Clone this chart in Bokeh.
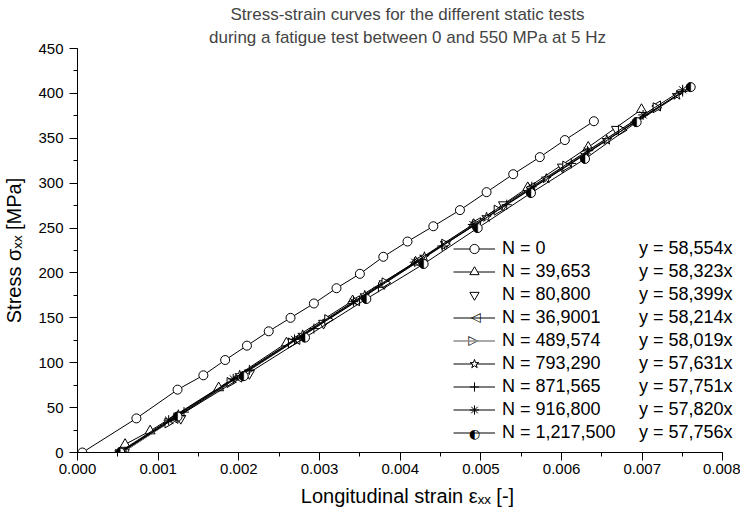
import numpy as np
from bokeh.plotting import figure
from bokeh.models import (Range1d, SingleIntervalTicker, NumeralTickFormatter,
                          Legend, LegendItem, Title, Label)
from bokeh.embed import file_html
from bokeh.resources import INLINE

FONT = "Liberation Sans"

title_line1 = "Stress-strain curves for the different static tests"
title_line2 = "during a fatigue test between 0 and 550 MPa at 5 Hz"
x_label = "Longitudinal strain εₓₓ [-]"
y_label = "Stress σₓₓ [MPa]"

series_names = ["N = 0", "N = 39,653", "N = 80,800", "N = 36,9001", "N = 489,574",
                "N = 793,290", "N = 871,565", "N = 916,800", "N = 1,217,500"]
fit_labels = ["y = 58,554x", "y = 58,323x", "y = 58,399x", "y = 58,214x", "y = 58,019x",
              "y = 57,631x", "y = 57,751x", "y = 57,820x", "y = 57,756x"]

# N = 0
strain_n0 = [0.00006, 0.00073, 0.00124, 0.00156, 0.00183, 0.00210, 0.00237, 0.00264, 0.00293, 0.00321,
             0.00350, 0.00379, 0.00409, 0.00441, 0.00474, 0.00507, 0.00540, 0.00573, 0.00604, 0.00640]
stress_n0 = [0, 38, 70, 86, 103, 119, 135, 150, 166, 183, 199, 218, 235, 252, 270, 290, 310, 329, 348, 369]
# N = 39,653
strain_n39653 = [0.00059, 0.00090, 0.00175, 0.00259, 0.00341, 0.00419, 0.00491, 0.00558, 0.00633, 0.00699]
stress_n39653 = [9, 24, 72, 122, 169, 212, 254, 295, 340, 382]
# N = 80,800 (points only)
strain_n80800 = [0.00058, 0.00128, 0.00213, 0.00305, 0.00380, 0.00456, 0.00528, 0.00601, 0.00668]
stress_n80800 = [0, 38, 88, 144, 188, 232, 276, 318, 360]
# N = 36,9001
strain_n369001 = [0.00056, 0.00121, 0.00200, 0.00272, 0.00346, 0.00424, 0.00496, 0.00563, 0.00630, 0.00719]
stress_n369001 = [0, 38, 84, 126, 169, 214, 256, 295, 334, 386]
# N = 489,574
strain_n489574 = [0.00055, 0.00112, 0.00189, 0.00265, 0.00310, 0.00381, 0.00455, 0.00520, 0.00605, 0.00674, 0.00717]
stress_n489574 = [0, 33, 78, 122, 148, 189, 232, 270, 319, 359, 384]
# N = 793,290
strain_n793290 = [0.00052, 0.00125, 0.00201, 0.00279, 0.00356, 0.00430, 0.00507, 0.00581, 0.00656, 0.00743]
stress_n793290 = [0, 42, 86, 131, 175, 218, 262, 305, 348, 398]
# N = 871,565
strain_n871565 = [0.00054, 0.00132, 0.00213, 0.00293, 0.00373, 0.00452, 0.00532, 0.00612, 0.00691, 0.00750]
stress_n871565 = [0, 45, 92, 138, 184, 230, 276, 322, 368, 402]
# N = 916,800
strain_n916800 = [0.00051, 0.00113, 0.00193, 0.00269, 0.00342, 0.00418, 0.00490, 0.00563, 0.00632, 0.00701, 0.00750]
stress_n916800 = [0, 36, 82, 126, 168, 212, 254, 296, 336, 376, 404]
# N = 1,217,500
strain_n1217500 = [0.00053, 0.00124, 0.00206, 0.00282, 0.00358, 0.00429, 0.00496, 0.00562, 0.00629, 0.00693, 0.00760]
stress_n1217500 = [0, 40, 85, 128, 171, 210, 250, 289, 327, 368, 407]

X_AXIS_END = 0.008

p = figure(width=740, height=510, output_backend="svg", toolbar_location=None,
           x_range=Range1d(0, 0.00818), y_range=Range1d(0, 450),
           min_border_left=74, min_border_right=3, min_border_top=48, min_border_bottom=58)
p.outline_line_color = None
p.grid.visible = False
p.background_fill_color = "white"
p.border_fill_color = "white"

p.xaxis.ticker = SingleIntervalTicker(interval=0.001, num_minor_ticks=2)
p.yaxis.ticker = SingleIntervalTicker(interval=50, num_minor_ticks=2)
p.xaxis.formatter = NumeralTickFormatter(format="0.000")
p.xaxis.bounds = (0, X_AXIS_END)
for ax in (p.xaxis[0], p.yaxis[0]):
    ax.axis_line_color = "black"
    ax.major_tick_line_color = "black"
    ax.minor_tick_line_color = "black"
    ax.major_tick_in = 0
    ax.major_tick_out = 8
    ax.minor_tick_in = 0
    ax.minor_tick_out = 4
    ax.major_label_text_font = FONT
    ax.major_label_text_font_size = "15px"
    ax.major_label_text_color = "black"
    ax.axis_label_text_font = FONT
    ax.axis_label_text_font_size = "20px"
    ax.axis_label_text_font_style = "normal"
    ax.axis_label_text_color = "black"
p.xaxis.axis_label = x_label
p.yaxis.axis_label = y_label
p.xaxis.major_label_standoff = 3
p.yaxis.major_label_standoff = 6
p.xaxis.axis_label_standoff = 8
p.yaxis.axis_label_standoff = 10

p.add_layout(Title(text=title_line2, text_font=FONT, text_font_size="17px",
                   text_font_style="normal", align="center", standoff=4, offset=-13), "above")
p.add_layout(Title(text=title_line1, text_font=FONT, text_font_size="17px",
                   text_font_style="normal", align="center", standoff=0, offset=-13), "above")

W = dict(fill_color="white", line_color="black", line_width=1)

r0l = p.line(strain_n0, stress_n0, line_color="black", line_width=1)
r0m = p.scatter(strain_n0, stress_n0, marker="circle", size=9, **W)

r1l = p.line(strain_n39653, stress_n39653, line_color="black", line_width=1)
r1m = p.scatter(strain_n39653, stress_n39653, marker="triangle", size=10, **W)

r2m = p.scatter(strain_n80800, stress_n80800, marker="inverted_triangle", size=10, **W)

r3l = p.line(strain_n369001, stress_n369001, line_color="black", line_width=1)
r3m = p.scatter(strain_n369001, stress_n369001, marker="triangle", angle=np.pi / 2, size=10, **W)

r4l = p.line(strain_n489574, stress_n489574, line_color="#8c8c8c", line_width=1.5)
r4m = p.scatter(strain_n489574, stress_n489574, marker="triangle", angle=-np.pi / 2, size=10, **W)

r5l = p.line(strain_n793290, stress_n793290, line_color="black", line_width=1)
r5m = p.scatter(strain_n793290, stress_n793290, marker="star", size=10, **W)

r6l = p.line(strain_n871565, stress_n871565, line_color="black", line_width=1)
r6m = p.scatter(strain_n871565, stress_n871565, marker="cross", size=10, line_color="black")

r7l = p.line(strain_n916800, stress_n916800, line_color="black", line_width=1)
r7m = p.scatter(strain_n916800, stress_n916800, marker="asterisk", size=10, line_color="black")

r8l = p.line(strain_n1217500, stress_n1217500, line_color="black", line_width=1)
r8m = p.scatter(strain_n1217500, stress_n1217500, marker="circle", size=9, **W)
r8w = p.wedge(strain_n1217500, stress_n1217500, radius=4.5, radius_units="screen",
              start_angle=np.pi / 2, end_angle=3 * np.pi / 2,
              fill_color="black", line_color="black", line_width=0.5)

renderer_groups = [[r0l, r0m], [r1l, r1m], [r2m], [r3l], [r4l],
                   [r5l, r5m], [r6l, r6m], [r7l, r7m], [r8l]]

LEG_X, LEG_Y, ROW_H, GLYPH_W = 376, 8, 23, 42
common = dict(orientation="vertical", glyph_height=ROW_H, label_height=ROW_H,
              spacing=0, padding=0, margin=0, label_text_font=FONT,
              label_text_font_size="18px", label_text_color="black",
              border_line_color=None, background_fill_alpha=0)

legend1 = Legend(items=[LegendItem(label=n, renderers=g) for n, g in zip(series_names, renderer_groups)],
                 location=(LEG_X, LEG_Y), glyph_width=GLYPH_W, label_standoff=7, **common)
p.add_layout(legend1, "center")

dummy = p.line([], [], line_alpha=0)
legend2 = Legend(items=[LegendItem(label=t, renderers=[dummy]) for t in fit_labels],
                 location=(562, LEG_Y), glyph_width=0, label_standoff=0, **common)
p.add_layout(legend2, "center")

# legend symbols that Bokeh cannot rotate / half-fill in its legend
n_rows = len(series_names)
def row_center(i):
    return LEG_Y + (n_rows - i) * ROW_H - ROW_H / 2

gx = LEG_X + GLYPH_W / 2
symbols = [(3, "▲", "△", np.pi / 2), (4, "▲", "△", -np.pi / 2), (8, "●", "◐", 0.0)]
for i, mask, sym, ang in symbols:
    for txt, col in ((mask, "white"), (sym, "black")):
        p.add_layout(Label(x=gx, y=row_center(i), x_units="screen", y_units="screen",
                           text=txt, text_font="DejaVu Sans", text_font_size="13px", angle=ang,
                           text_color=col, text_align="center", text_baseline="middle"))

open("out.html", "w").write(file_html(p, INLINE))
